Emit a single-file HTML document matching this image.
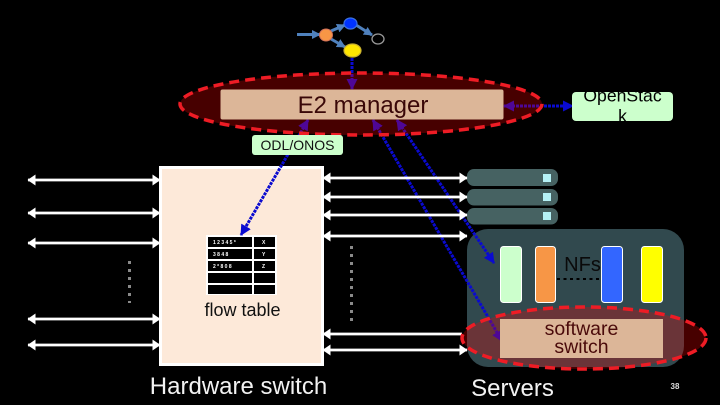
<!DOCTYPE html>
<html><head><meta charset="utf-8"><style>
html,body{margin:0;padding:0;background:#000;width:720px;height:405px;overflow:hidden}
svg{display:block}
text{font-family:"Liberation Sans",sans-serif}
</style></head><body>
<svg width="720" height="405" viewBox="0 0 720 405" xmlns="http://www.w3.org/2000/svg">
<defs>
<marker id="wh" markerUnits="userSpaceOnUse" markerWidth="8" markerHeight="12" refX="7.5" refY="6" orient="auto-start-reverse"><path d="M0 0.500L8 6L0 11.500Z" fill="#fff"/></marker>
<marker id="bl" markerUnits="userSpaceOnUse" markerWidth="11" markerHeight="11" refX="10" refY="5.500" orient="auto-start-reverse"><path d="M0 0L11 5.500L0 11Z" fill="#0a0ad0"/></marker>
<marker id="st" markerUnits="userSpaceOnUse" markerWidth="9" markerHeight="9" refX="8" refY="4.500" orient="auto"><path d="M0 0L9 4.500L0 9Z" fill="#4f81bd"/></marker>
</defs>

<!-- hardware switch -->
<rect x="160.500" y="167.500" width="162" height="197" fill="#fde9d9" stroke="#fff" stroke-width="3"/>
<rect x="206" y="235" width="71" height="60" fill="#fff"/>
<g fill="#000">
<rect x="208" y="237" width="44" height="10"/><rect x="254" y="237" width="21" height="10"/>
<rect x="208" y="249" width="44" height="10"/><rect x="254" y="249" width="21" height="10"/>
<rect x="208" y="261" width="44" height="10"/><rect x="254" y="261" width="21" height="10"/>
<rect x="208" y="273" width="44" height="10"/><rect x="254" y="273" width="21" height="10"/>
<rect x="208" y="285" width="44" height="9"/><rect x="254" y="285" width="21" height="9"/>
</g>
<g fill="#fff" font-size="5" font-weight="bold">
<text x="213" y="244">1 2 3 4 5 *</text><text x="262" y="244">X</text>
<text x="213" y="256">3 8 4 8</text><text x="262" y="256">Y</text>
<text x="213" y="268">2 * 8 0 8</text><text x="262" y="268">Z</text>
</g>
<text x="242.500" y="316" font-size="18" text-anchor="middle" fill="#111">flow table</text>

<!-- servers -->
<rect x="467" y="169" width="91" height="17" rx="7" fill="#466262"/>
<rect x="467" y="189" width="91" height="16.500" rx="7" fill="#466262"/>
<rect x="467" y="208" width="91" height="16.500" rx="7" fill="#466262"/>
<rect x="543" y="174" width="8" height="8" fill="#b5f1f5"/>
<rect x="543" y="193" width="8" height="8" fill="#b5f1f5"/>
<rect x="543" y="212" width="8" height="8" fill="#b5f1f5"/>
<rect x="467" y="229" width="217" height="138" rx="21" fill="#31494e"/>
<rect x="500.500" y="246.500" width="21" height="56" rx="3" fill="#ccffcc" stroke="#fff"/>
<rect x="535.500" y="246.500" width="20" height="56" rx="3" fill="#f79646" stroke="#fff"/>
<rect x="601.500" y="246.500" width="21" height="56" rx="3" fill="#3366ff" stroke="#fff"/>
<rect x="641.500" y="246.500" width="21" height="56" rx="3" fill="#ffff00" stroke="#fff"/>
<text x="582.500" y="271" font-size="20" text-anchor="middle" fill="#0a0a0a">NFs</text>
<line x1="557" y1="279" x2="601" y2="279" stroke="#000" stroke-width="2" stroke-dasharray="3 3.500"/>

<!-- blue connectors -->
<g stroke="#0a0ad0" stroke-width="3" stroke-dasharray="3 1" fill="none">
<line x1="352" y1="58" x2="352" y2="89" marker-end="url(#bl)"/>
<line x1="308" y1="120" x2="241" y2="235" marker-start="url(#bl)" marker-end="url(#bl)"/>
<line x1="373" y1="120" x2="502" y2="341" marker-start="url(#bl)" marker-end="url(#bl)"/>
<line x1="397" y1="120" x2="494" y2="263" marker-start="url(#bl)" marker-end="url(#bl)"/>
<line x1="504" y1="106" x2="573" y2="106" marker-start="url(#bl)" marker-end="url(#bl)"/>
</g>

<!-- white arrows -->
<g stroke="#fff" stroke-width="2.800" fill="none">
<line x1="28" y1="180" x2="160" y2="180" marker-start="url(#wh)" marker-end="url(#wh)"/>
<line x1="28" y1="213" x2="160" y2="213" marker-start="url(#wh)" marker-end="url(#wh)"/>
<line x1="28" y1="243" x2="160" y2="243" marker-start="url(#wh)" marker-end="url(#wh)"/>
<line x1="28" y1="319" x2="160" y2="319" marker-start="url(#wh)" marker-end="url(#wh)"/>
<line x1="28" y1="345" x2="160" y2="345" marker-start="url(#wh)" marker-end="url(#wh)"/>
<line x1="323" y1="178" x2="467" y2="178" marker-start="url(#wh)" marker-end="url(#wh)"/>
<line x1="323" y1="197" x2="467" y2="197" marker-start="url(#wh)" marker-end="url(#wh)"/>
<line x1="323" y1="215" x2="467" y2="215" marker-start="url(#wh)" marker-end="url(#wh)"/>
<line x1="323" y1="236" x2="467" y2="236" marker-start="url(#wh)" marker-end="url(#wh)"/>
<line x1="323" y1="334" x2="462" y2="334" marker-start="url(#wh)"/>
<line x1="323" y1="350" x2="467" y2="350" marker-start="url(#wh)" marker-end="url(#wh)"/>
</g>

<!-- grey dots -->
<line x1="129.500" y1="261" x2="129.500" y2="303" stroke="#8a8a8a" stroke-width="3" stroke-dasharray="3 5"/>
<line x1="351.500" y1="246" x2="351.500" y2="322" stroke="#8a8a8a" stroke-width="3" stroke-dasharray="3 5"/>

<!-- top graph -->
<g stroke="#4f81bd" stroke-width="3" fill="none">
<line x1="297" y1="34.500" x2="320" y2="34.500" marker-end="url(#st)"/>
<line x1="331" y1="31" x2="345" y2="25" marker-end="url(#st)"/>
<line x1="331" y1="39" x2="345" y2="47" marker-end="url(#st)"/>
<line x1="356" y1="25" x2="372" y2="35" marker-end="url(#st)"/>
</g>
<ellipse cx="326" cy="35" rx="6.500" ry="6" fill="#f79646" stroke="#d0705a" stroke-width="1"/>
<ellipse cx="350.500" cy="23.500" rx="6.500" ry="5.500" fill="#0033ff" stroke="#3a70e0" stroke-width="1.200"/>
<ellipse cx="352.500" cy="50.500" rx="8.500" ry="6.500" fill="#ffe600" stroke="#c8b030" stroke-width="1.200"/>
<ellipse cx="378" cy="39" rx="6" ry="5" fill="#000" stroke="#999" stroke-width="1.300"/>

<!-- ellipses -->
<ellipse cx="361" cy="104" rx="181" ry="31" fill="#ff0000" fill-opacity=".28" stroke="#ee1c25" stroke-width="3.500" stroke-dasharray="10 6"/>
<ellipse cx="584" cy="338" rx="122" ry="31" fill="#ff0000" fill-opacity=".28" stroke="#ee1c25" stroke-width="3.500" stroke-dasharray="10 6"/>

<!-- boxes above ellipses -->
<rect x="220.500" y="89.500" width="283" height="30" rx="2" fill="#dcb698"/>
<text x="363" y="113" font-size="24" text-anchor="middle" fill="#3a0808">E2 manager</text>
<rect x="500" y="319" width="163" height="39" fill="#dcb698"/>
<text x="581.500" y="335" font-size="19.500" text-anchor="middle" fill="#4a0a0a">software</text>
<text x="581.500" y="353" font-size="19.500" text-anchor="middle" fill="#4a0a0a">switch</text>
<rect x="252" y="135" width="91" height="20" rx="3" fill="#ccffcc"/>
<text x="297.500" y="150" font-size="14" text-anchor="middle" fill="#111">ODL/ONOS</text>
<rect x="572" y="92" width="101" height="29" rx="4" fill="#ccffcc"/>
<svg x="560" y="92" width="125" height="29">
<text x="62.500" y="9.500" font-size="17.600" text-anchor="middle" fill="#000">OpenStac</text>
<text x="62.500" y="30" font-size="17.600" text-anchor="middle" fill="#000">k</text>
</svg>

<!-- captions -->
<text x="238.500" y="394" font-size="24" text-anchor="middle" fill="#f2f2f2">Hardware switch</text>
<text x="512.500" y="396" font-size="24" text-anchor="middle" fill="#f2f2f2">Servers</text>
<text x="675" y="389" font-size="8" font-weight="bold" text-anchor="middle" fill="#ddd">38</text>
</svg>
</body></html>
